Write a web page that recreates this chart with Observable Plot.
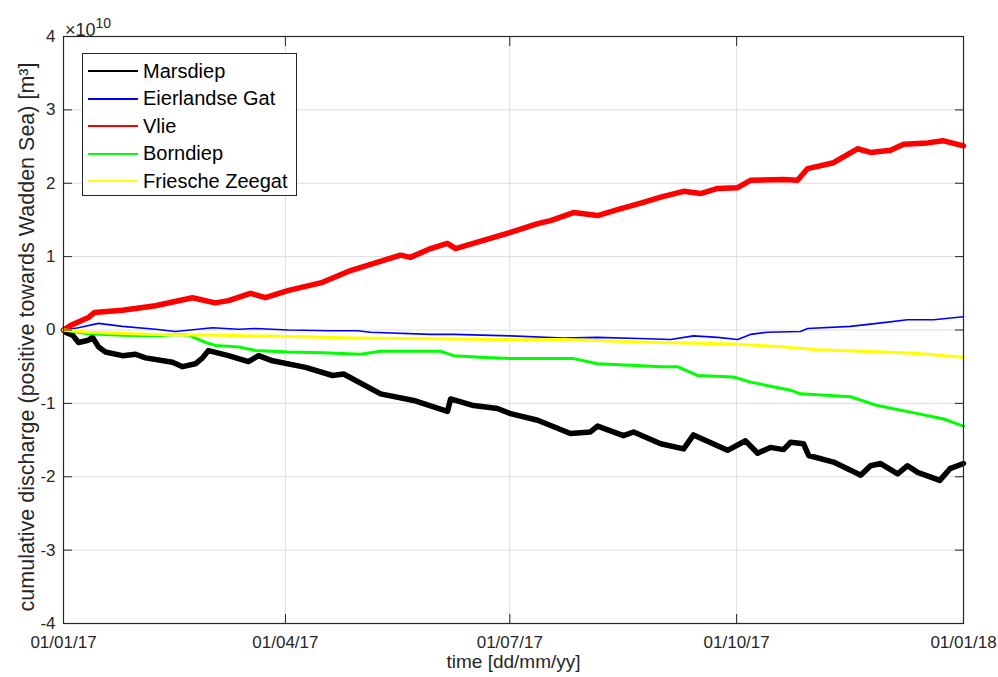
<!DOCTYPE html>
<html>
<head>
<meta charset="utf-8">
<script src="https://cdn.jsdelivr.net/npm/d3@7"></script>
<script src="https://cdn.jsdelivr.net/npm/@observablehq/plot@0.6"></script>
<style>
  body { margin: 0; background: #fff; font-family: "Liberation Sans", Arial, Helvetica, sans-serif; }
  #wrap { position: relative; width: 998px; height: 677px; }
  #exp { position: absolute; left: 65px; top: 17px; font-size: 18px; color: #262626; line-height: 1; }
  #exp sup { font-size: 14px; position: relative; top: -1px; vertical-align: super; }
  #legend { position: absolute; left: 82px; top: 53px; width: 215px; height: 143px; border: 1px solid #262626;
            background: #fff; box-sizing: border-box; }
  .row { position: absolute; left: 0; height: 28px; display: flex; align-items: center; }
  .sw { width: 50px; height: 2px; margin-left: 5px; margin-right: 5px; }
  .lab { font-size: 20px; color: #000; white-space: nowrap; }
</style>
</head>
<body>
<div id="wrap">
  <div id="chart"></div>
  <div id="exp">×10<sup>10</sup></div>
  <div id="legend"></div>
</div>
<script>
// Cumulative discharge, in units of 10^10 m^3; days counted from 01/01/2017
const seriesNames = ["Marsdiep", "Eierlandse Gat", "Vlie", "Borndiep", "Friesche Zeegat"];
const seriesColors = ["#000000", "#0000ff", "#ff0000", "#00ff00", "#ffff00"];

const marsdiepDays = [0,0.8,3.7,6.1,10.1,11.8,14.2,17,23.9,29.2,33.3,44.2,48.3,53.5,56.4,58.8,66.9,75,79.1,84.8,98.2,109.1,113.6,128.6,142,155.7,157,166.3,176,181.3,192.3,205.6,213.7,216.6,227.1,231.2,242.2,251.5,255.5,269.3,276.6,281.5,286.7,292,294.9,300.1,302.2,312.3,319.2,323.3,327.3,331.4,338.3,342.3,346.4,355.4,359.5,365];
const marsdiepValues = [0,-0.03,-0.07,-0.17,-0.14,-0.10,-0.23,-0.30,-0.35,-0.33,-0.38,-0.44,-0.50,-0.46,-0.38,-0.28,-0.35,-0.43,-0.35,-0.42,-0.51,-0.62,-0.60,-0.87,-0.96,-1.11,-0.94,-1.03,-1.07,-1.14,-1.23,-1.41,-1.39,-1.31,-1.44,-1.39,-1.55,-1.62,-1.43,-1.64,-1.51,-1.68,-1.60,-1.63,-1.53,-1.55,-1.71,-1.80,-1.91,-1.98,-1.85,-1.82,-1.96,-1.85,-1.94,-2.05,-1.89,-1.82];

const eierlandseDays = [0,6,14.2,23.9,37.3,45.4,60.4,71,77.9,91.3,108.3,119.2,124.5,148.9,158.2,181.3,202.8,216.6,236.9,246.2,255.5,265.3,273.4,278.6,285.5,298.9,301.8,319.2,332.6,342.3,352.9,365];
const eierlandseValues = [0,0.03,0.09,0.05,0.01,-0.02,0.03,0.01,0.02,0,-0.01,-0.01,-0.03,-0.06,-0.06,-0.08,-0.11,-0.10,-0.12,-0.13,-0.08,-0.10,-0.13,-0.06,-0.03,-0.02,0.02,0.05,0.10,0.14,0.14,0.18];

const vlieDays = [0,2.8,10.1,12.6,23.9,37.3,52.3,61.6,66.9,75.8,81.9,91.3,105.1,116.4,129.8,136.7,140.7,148.9,155.7,159,170.3,181.3,192.3,197.5,206.9,216.6,224.7,235.2,242.2,251.5,258.4,265.3,273.4,278.6,292,297.7,301.8,312.3,322,327.3,335.4,340.7,350.4,356.6,365];
const vlieValues = [0,0.06,0.17,0.24,0.27,0.33,0.44,0.37,0.40,0.50,0.44,0.54,0.65,0.81,0.95,1.02,0.99,1.11,1.18,1.11,1.22,1.33,1.45,1.49,1.60,1.56,1.64,1.74,1.81,1.89,1.86,1.93,1.94,2.04,2.05,2.04,2.20,2.28,2.47,2.42,2.45,2.53,2.55,2.58,2.51];

const borndiepDays = [0,10.1,23.9,37.3,46.6,50.7,57.6,61.6,71,77.9,91.3,105.1,120.5,128.6,152.9,158.2,169.1,181.3,206.9,216.6,230,242.2,249,257.1,271.7,278.6,294.9,298.9,319.2,330.1,346.4,356.6,365];
const borndiepValues = [0,-0.05,-0.07,-0.08,-0.06,-0.07,-0.17,-0.21,-0.23,-0.28,-0.30,-0.31,-0.33,-0.29,-0.29,-0.35,-0.37,-0.39,-0.39,-0.46,-0.48,-0.50,-0.50,-0.62,-0.64,-0.71,-0.82,-0.87,-0.91,-1.03,-1.14,-1.21,-1.31];

const friescheDays = [0,10.1,37.3,64.5,91.3,118.4,148.9,176,202.8,242.2,271.7,292,305.8,332.6,346.4,365];
const friescheValues = [0,-0.03,-0.06,-0.07,-0.09,-0.11,-0.12,-0.13,-0.13,-0.17,-0.19,-0.23,-0.27,-0.30,-0.32,-0.37];

const xTickDates = ["2017-01-01", "2017-04-01", "2017-07-01", "2017-10-01", "2018-01-01"];
const yTicks = [-4, -3, -2, -1, 0, 1, 2, 3, 4];
const xLabel = "time [dd/mm/yy]";
const yLabel = "cumulative discharge (positive towards Wadden Sea) [m³]";

const start = Date.UTC(2017, 0, 1);
const toDate = d => new Date(start + d * 86400000);
const seriesDays = [marsdiepDays, eierlandseDays, vlieDays, borndiepDays, friescheDays];
const seriesValues = [marsdiepValues, eierlandseValues, vlieValues, borndiepValues, friescheValues];
const seriesWidths = [5.5, 1.6, 5.5, 3, 3];

const ticks = xTickDates.map(s => new Date(s + "T00:00:00Z"));
const fmt = d3.utcFormat("%d/%m/%y");

const lineMarks = seriesNames.map((name, i) => {
  const data = seriesDays[i].map((d, j) => ({date: toDate(d), value: seriesValues[i][j]}));
  return Plot.line(data, {x: "date", y: "value", stroke: seriesColors[i], strokeWidth: seriesWidths[i], strokeLinejoin: "round", strokeLinecap: "round"});
});

const chart = Plot.plot({
  width: 998, height: 677,
  marginLeft: 63, marginRight: 35, marginTop: 36, marginBottom: 54,
  style: {fontFamily: "Liberation Sans, Arial, Helvetica, sans-serif", fontSize: "17px", color: "#262626", background: "white"},
  x: {type: "utc", domain: [ticks[0], ticks[ticks.length - 1]]},
  y: {domain: [-4, 4]},
  marks: [
    Plot.gridX(ticks, {stroke: "#dedede", strokeOpacity: 1}),
    Plot.gridY(yTicks, {stroke: "#dedede", strokeOpacity: 1}),
    ...lineMarks,
    Plot.frame({stroke: "#262626", strokeWidth: 1.2}),
    Plot.axisX(ticks, {anchor: "bottom", tickSize: -9, tickPadding: 21, tickFormat: fmt, label: null}),
    Plot.axisX(ticks, {anchor: "top", tickSize: -9, tickFormat: () => "", label: null}),
    Plot.axisY(yTicks, {anchor: "left", tickSize: -9, tickPadding: 17, tickFormat: d => String(d), label: null}),
    Plot.axisY(yTicks, {anchor: "right", tickSize: -9, tickFormat: () => "", label: null}),
    Plot.text([xLabel], {text: d => d, frameAnchor: "bottom", dy: 44, fontSize: 19, fill: "#262626"}),
    Plot.text([yLabel], {text: d => d, frameAnchor: "left", textAnchor: "middle", rotate: -90, dx: -36, dy: 7, fontSize: 21.5, fill: "#262626"})
  ]
});
document.getElementById("chart").appendChild(chart);

const legend = document.getElementById("legend");
seriesNames.forEach((name, i) => {
  const row = document.createElement("div");
  row.className = "row";
  row.style.top = (3 + i * 27.6) + "px";
  const sw = document.createElement("div");
  sw.className = "sw";
  sw.style.background = seriesColors[i];
  const lab = document.createElement("span");
  lab.className = "lab";
  lab.textContent = name;
  row.appendChild(sw);
  row.appendChild(lab);
  legend.appendChild(row);
});
</script>
</body>
</html>
